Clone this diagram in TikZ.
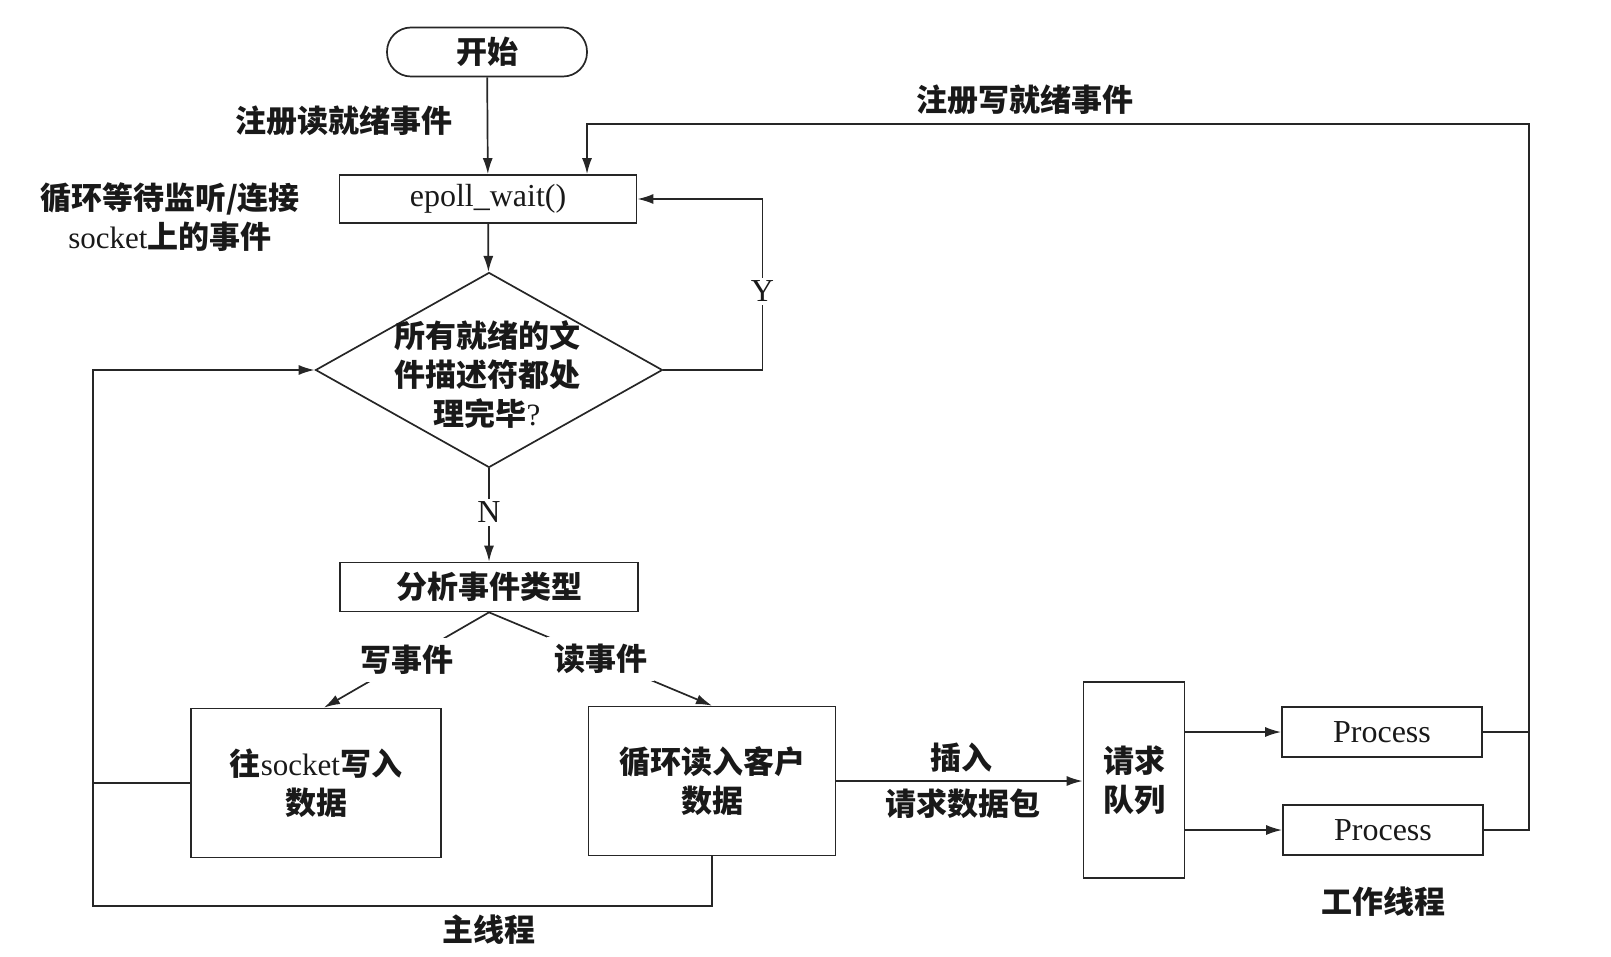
\documentclass[tikz,border=0pt]{standalone}
\usepackage{fontspec}
\setmainfont{Liberation Serif}
\newfontfamily\cjk{Noto Sans CJK SC}
\usetikzlibrary{shapes.geometric,arrows.meta}
\begin{document}
\begin{tikzpicture}[x=1pt,y=-1pt,
  line/.style={line width=1.7pt, draw=black!85},
  arr/.style={line, -{Latex[length=16pt,width=10pt]}},
  txt/.style={font=\cjk\bfseries\fontsize{31}{39}\selectfont, align=center, text=black!90},
  box/.style={txt, draw=black!85, line width=1.7pt, rectangle, inner sep=0pt},
  lbl/.style={txt, inner sep=2pt},
  onl/.style={txt, fill=white, inner sep=7pt},
  lat/.style={font=\rmfamily\fontsize{32}{39}\selectfont},
  ]
\useasboundingbox (0,0) rectangle (1611,957);

% nodes
\node[box, rounded corners=24pt, minimum width=200pt, minimum height=49pt] (start) at (487,52) {开始};
\node[box, lat, minimum width=297pt, minimum height=48pt] (epoll) at (488,199) {epoll\_wait()};
\node[diamond, draw=black!85, line width=1.7pt, minimum width=347pt, minimum height=195pt, inner sep=0pt] (dec) at (489,370) {};
\node[lbl] (dect) at (487,375) {所有就绪的文\\件描述符都处\\理完毕{\mdseries\rmfamily ?}};
\node[box, minimum width=298pt, minimum height=49pt] (ana) at (489,587) {分析事件类型};
\node[box, minimum width=250pt, minimum height=149pt] (wr) at (316,783) {往{\mdseries\rmfamily socket}写入\\数据};
\node[box, minimum width=247pt, minimum height=149pt] (rd) at (712,781) {循环读入客户\\数据};
\node[box, minimum width=101pt, minimum height=196pt] (q) at (1134,780) {请求\\队列};
\node[box, lat, minimum width=200pt, minimum height=50pt] (p1) at (1382,732) {Process};
\node[box, lat, minimum width=200pt, minimum height=50pt] (p2) at (1383,830) {Process};

% labels
\node[lbl] (l1) at (344,121) {注册读就绪事件};
\node[lbl] (l2) at (170,217) {循环等待监听/连接\\{\mdseries\rmfamily socket}上的事件};
\node[lbl] (l3) at (1025,100) {注册写就绪事件};
\node[lbl] (l4) at (489,930) {主线程};
\node[lbl] (l5) at (961,758) {插入};
\node[lbl] (l6) at (963,804) {请求数据包};
\node[lbl] (l7) at (1383,902) {工作线程};

% coordinates
\coordinate (lt) at (93,370);
\coordinate (lb) at (93,906);
\coordinate (rt) at (1529,124);

% connectors
\draw[arr] (start) -- (epoll);
\draw[arr] (epoll) -- (dec);
\draw[arr] (dec.east) -| node[pos=0.73, onl, lat, inner sep=3pt]{Y} ([xshift=125pt]epoll.east) -- (epoll.east);
\draw[arr] (dec.south) -- node[pos=0.47, onl, lat, inner sep=3pt]{N} (ana.north);
\draw[arr] (ana.south) -- node[onl]{写事件} ([xshift=8pt]wr.north);
\draw[arr] (ana.south) -- node[onl]{读事件} (rd.north);
\draw[arr] (rd.south) |- (lb) -- (lt) -- (dec.west);
\draw[line] (wr.west) -- (wr.west -| lb);
\draw[arr] (rd.east) -- (rd.east -| q.west);
\draw[arr] (q.east |- p1.west) -- (p1.west);
\draw[arr] (q.east |- p2.west) -- (p2.west);
\draw[line] (p1.east) -- (p1.east -| rt);
\draw[arr] (p2.east) -| (rt) -| ([xshift=99pt]epoll.north);
\end{tikzpicture}
\end{document}
